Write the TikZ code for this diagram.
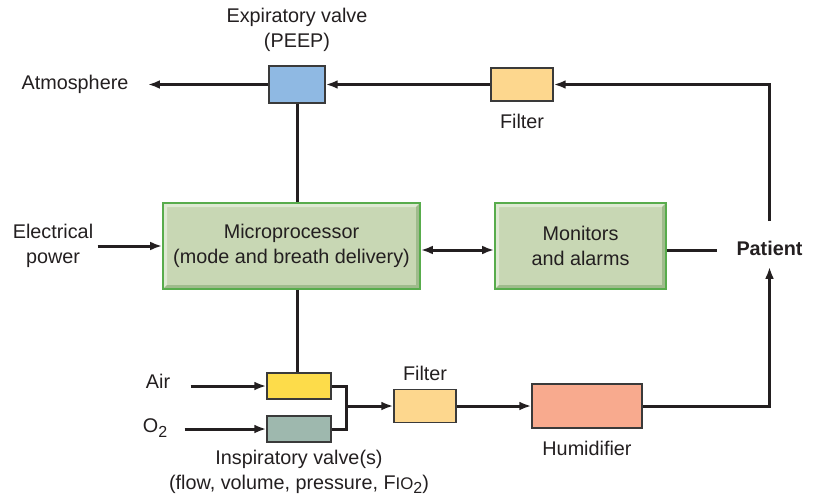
\documentclass[tikz,border=0pt]{standalone}
\usepackage{fontspec}
\setmainfont{Liberation Sans}
\usetikzlibrary{arrows.meta}
\definecolor{inkgray}{HTML}{231F20}
\definecolor{boxgray}{HTML}{3A3A3A}
\definecolor{valveblue}{HTML}{8FB9E3}
\definecolor{filterorange}{HTML}{FDD78E}
\definecolor{airyellow}{HTML}{FDDC4A}
\definecolor{oxygray}{HTML}{9EB8AE}
\definecolor{humidsalmon}{HTML}{F8AA8E}
\definecolor{panelgreen}{HTML}{C8D7B4}
\definecolor{edgegreen}{HTML}{58AC4C}
\definecolor{bevellight}{HTML}{DFE9D3}
\definecolor{beveldark}{HTML}{9FBB8C}
\newcommand{\subtwo}{\raisebox{-0.4ex}{\fontsize{8}{9}\selectfont 2}}
\tikzset{
  box/.style={draw=boxgray, line width=0.7pt, inner sep=0pt},
  greenbox/.style={fill=panelgreen, draw=edgegreen, line width=0.8pt, inner sep=0pt,
    minimum height=43pt, align=center,
    path picture={
      \fill[bevellight] (path picture bounding box.south west) -- (path picture bounding box.north west)
        -- (path picture bounding box.north east) -- ([xshift=-2pt,yshift=-2pt]path picture bounding box.north east)
        -- ([xshift=2pt,yshift=-2pt]path picture bounding box.north west) -- ([xshift=2pt,yshift=2pt]path picture bounding box.south west) -- cycle;
      \fill[beveldark] (path picture bounding box.south west) -- (path picture bounding box.south east)
        -- (path picture bounding box.north east) -- ([xshift=-2pt,yshift=-2pt]path picture bounding box.north east)
        -- ([xshift=-2pt,yshift=2pt]path picture bounding box.south east) -- ([xshift=2pt,yshift=2pt]path picture bounding box.south west) -- cycle;
    }},
  arr/.style={-{Latex[length=6pt,width=4.4pt]}},
  darr/.style={{Latex[length=6pt,width=4.4pt]}-{Latex[length=6pt,width=4.4pt]}},
}
\begin{document}
\begin{tikzpicture}[x=0.5pt,y=-0.5pt,line width=1.5pt,line cap=butt,line join=miter,
  color=inkgray,font=\fontsize{9.9}{12.6}\selectfont]
  \useasboundingbox (0,0) rectangle (813,498);

  % exhalation side
  \node[box,fill=valveblue,minimum width=28pt,minimum height=18.5pt] (A) at (297,84.5) {};
  \node[align=center] (Alab) at (297,30) {Expiratory valve\\(PEEP)};
  \node[box,fill=filterorange,minimum width=31pt,minimum height=16.5pt] (H) at (522,84.5) {};
  \node (Hlab) at (522,121) {Filter};
  \node[inner xsep=9pt] (atm) at (75,84.5) {Atmosphere};

  % control
  \node[greenbox,minimum width=128.5pt] (B) at (291.5,246) {Microprocessor\\(mode and breath delivery)};
  \node[greenbox,minimum width=85.5pt] (C) at (580.5,246) {Monitors\\and alarms};
  \node[align=center,inner xsep=1.5pt] (pow) at (53,246) {Electrical\\power};
  \node[font=\fontsize{9.9}{12.6}\bfseries,inner xsep=9pt,inner ysep=5pt] (P) at (769.5,248) {Patient};

  % inhalation side
  \node[box,fill=airyellow,minimum width=32pt,minimum height=13pt] (D) at (299,386) {};
  \node[box,fill=oxygray,minimum width=32pt,minimum height=13pt] (E) at (299,429) {};
  \node[inner xsep=9.5pt] (air) at (158,381) {Air};
  \node[inner xsep=8pt] (oxy) at (155,428) {O\subtwo};
  \node[align=center] (Elab) at (299,472) {Inspiratory valve(s)\\(flow, volume, pressure, F{\fontsize{8.4}{9}\selectfont IO}\subtwo)};
  \coordinate (M) at (346,406);
  \node[box,fill=filterorange,minimum width=31pt,minimum height=16.5pt] (F) at (425,406) {};
  \node (Flab) at (425,373) {Filter};
  \node[box,fill=humidsalmon,minimum width=55pt,minimum height=22pt] (G) at (587,406) {};
  \node (Glab) at (587,448) {Humidifier};

  \draw[arr] (A.west) -- (atm);
  \draw[arr] (H.west) -- (A.east);
  \draw[arr] ([yshift=4pt]P.north) |- (H.east);
  \draw (A.south) -- (A.south |- B.north);
  \draw[arr] (pow) -- (B);
  \draw[darr] ([yshift=-2pt]B.east) -- ([yshift=-2pt]C.west);
  \draw ([yshift=-2pt]C.east) -- ([yshift=-2pt]C.east -| P.west);
  \draw (A.south |- B.south) -- (A.south |- D.north);
  \draw[arr] (D.west -| air.east) -- (D.west);
  \draw[arr] (E.west -| oxy.east) -- (E.west);
  \draw (D.east) -| (M) |- (E.east);
  \draw[arr] (M) -- (F.west);
  \draw[arr] (F.east) -- (G.west);
  \draw[arr] (G.east) -| (P.south);
\end{tikzpicture}
\end{document}
